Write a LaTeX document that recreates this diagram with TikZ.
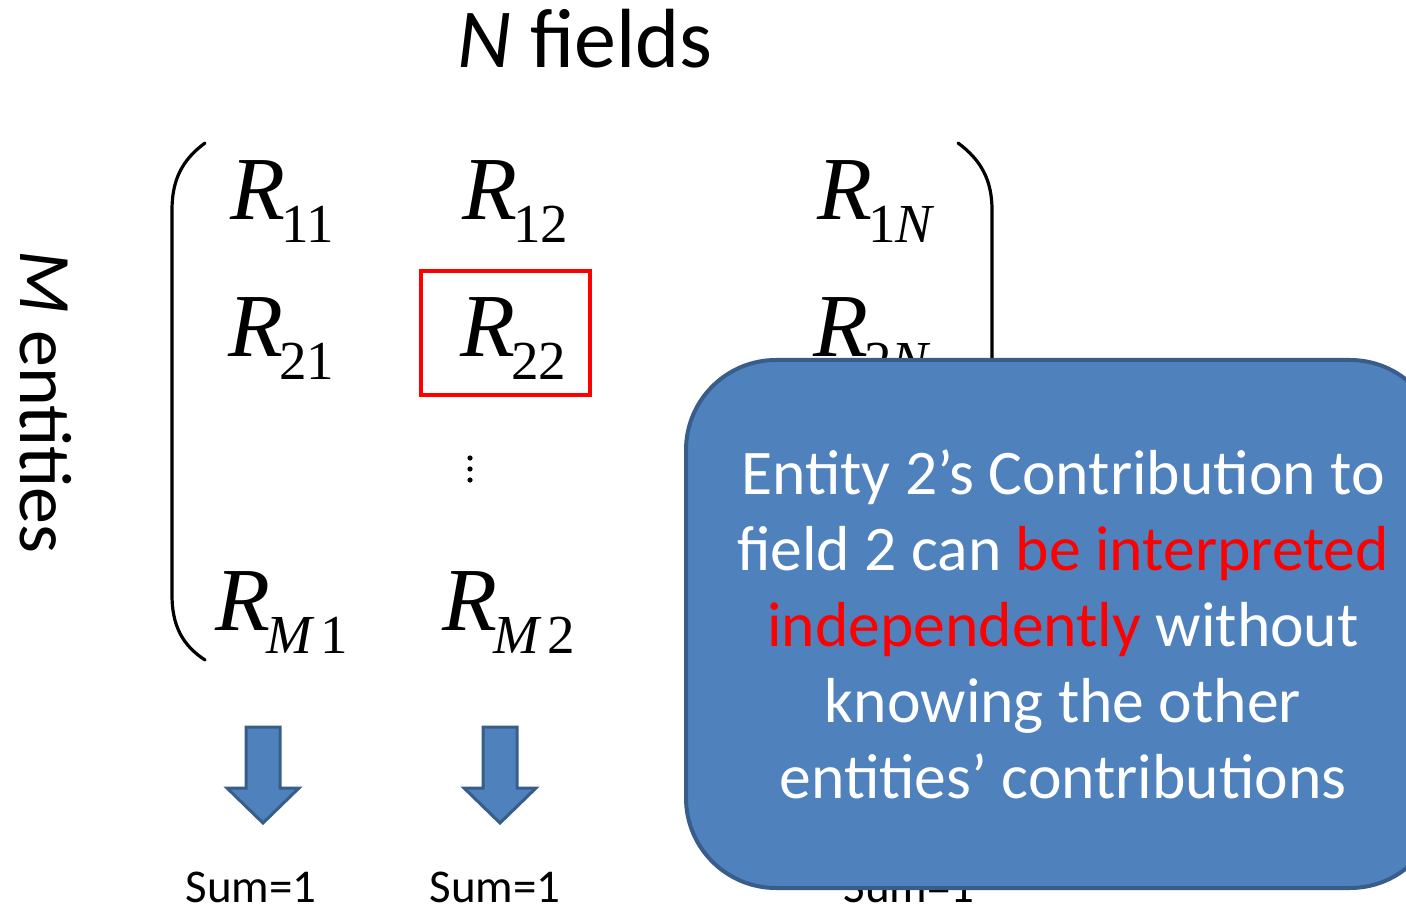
\documentclass[tikz,border=0pt]{standalone}
\usepackage{fontspec}
\setmainfont{Carlito}
\newfontfamily\tnr{Liberation Serif}
\definecolor{boxblue}{HTML}{4F81BD}
\definecolor{boxedge}{HTML}{385D8A}
\definecolor{pred}{HTML}{FF0000}
\newcommand{\Rent}[1]{{\tnr\fontsize{45}{45}\selectfont\itshape R}\kern-2pt\raisebox{-11.5pt}{\tnr\fontsize{27.5}{28}\selectfont #1}}
\tikzset{
  entry/.style={anchor=base west, inner sep=0pt},
  title/.style={anchor=base, inner sep=0pt, font=\fontsize{42}{50}\selectfont},
  sumlabel/.style={anchor=base, inner sep=0pt, font=\fontsize{23.5}{28}\selectfont},
  paren/.style={line width=1.6pt, line cap=round},
  hilite/.style={draw=pred, line width=2pt, minimum width=84.5pt, minimum height=62pt, inner sep=0pt},
  blockarrow/.style={fill=boxblue, draw=boxedge, line width=1.5pt, line join=miter},
  notebox/.style={fill=boxblue, draw=boxedge, line width=2pt, rounded corners=45pt,
    minimum width=377pt, minimum height=264pt, text=white, align=center,
    font=\fontsize{31.8}{38}\selectfont, inner sep=0pt},
  downarrow/.pic={\draw[blockarrow] (-17,0) -- (17,0) -- (17,61) -- (36,61) -- (0,96) -- (-36,61) -- (-17,61) -- cycle;}
}
\begin{document}
\begin{tikzpicture}[x=0.5pt,y=-0.5pt]
\useasboundingbox (0,0) rectangle (1406,908);
\clip (0,0) rectangle (1406,908);
% titles
\node[title] (nf) at (585,68) {\textit{N} fields};
\node[title, rotate=-90, font=\fontsize{37}{44}\selectfont] (me) at (20,402) {\textit{M} entities};
% parentheses
\draw[paren] (205,143) .. controls (182,160) and (172,180) .. (172,210) -- (172,595) .. controls (172,625) and (182,645) .. (205,660);
\draw[paren] (958,143) .. controls (981,160) and (992,180) .. (992,210) -- (992,595) .. controls (992,625) and (981,645) .. (958,660);
% entries
\node[entry] (r11) at (230,220) {\Rent{11}};
\node[entry] (r12) at (462,220) {\Rent{12}};
\node[entry] (r1n) at (817,220) {\Rent{1\textit{N}}};
\node[entry] (r21) at (228,357) {\Rent{21}};
\node[entry] (r22) at (460,357) {\Rent{22}};
\node[entry] (r2n) at (813,357) {\Rent{2\textit{N}}};
\node[entry] (rm1) at (215,630) {\Rent{\textit{M}\kern3pt1}};
\node[entry] (rm2) at (442,630) {\Rent{\textit{M}\kern3pt2}};
\node[hilite] (hl) at (505.5,333) {};
\foreach \yy in {458,469,480} \fill (470,\yy) circle (1.3pt);
% arrows and sums
\pic at (263,727) {downarrow};
\pic at (500,727) {downarrow};
\node[sumlabel] (s1) at (251,902) {Sum=1};
\node[sumlabel] (s2) at (495,902) {Sum=1};
\node[sumlabel] (s3) at (909,902) {Sum=1};
% callout
\node[notebox] (note) at (1063,624) {Entity 2’s Contribution to\\field 2 can \textcolor{pred}{be interpreted}\\\textcolor{pred}{independently} without\\knowing the other\\entities’ contributions};
\end{tikzpicture}
\end{document}
